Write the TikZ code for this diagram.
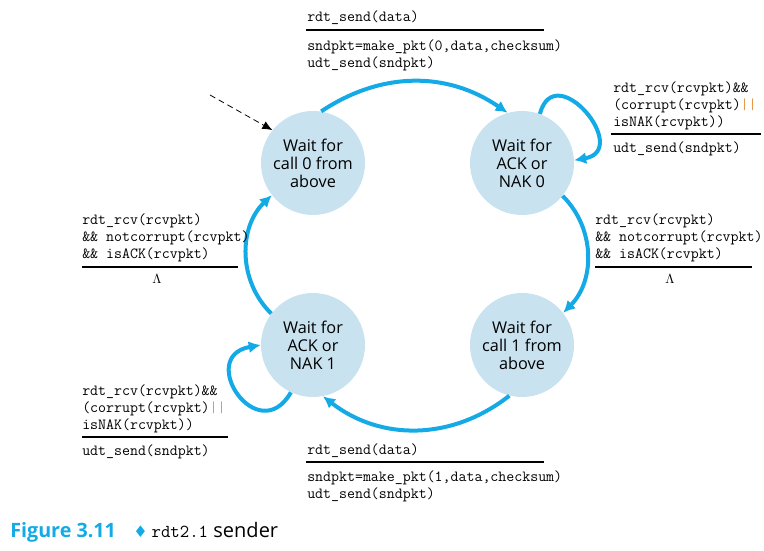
\documentclass[tikz,border=0pt]{standalone}
\usepackage{fontspec}
\newfontfamily\statefont{Open Sans}
\newfontfamily\symfont{DejaVu Sans}
\usepackage{xcolor}
\usepackage{tikz}
\usetikzlibrary{arrows.meta}
\definecolor{stateblue}{RGB}{200,226,240}
\definecolor{arrowblue}{RGB}{20,170,230}
\definecolor{barorange}{RGB}{230,150,70}
\newcommand{\orbar}{\textcolor{barorange}{||}}
\begin{document}
\begin{tikzpicture}[x=0.75pt, y=0.75pt,
  state/.style={circle, fill=stateblue, minimum size=78pt, inner sep=0pt,
    align=center, font=\statefont\fontsize{12.2}{13.5}\selectfont},
  trans/.style={line width=3pt, draw=arrowblue, -{Latex[length=9pt,width=9pt]}},
  lbl/.style={anchor=west, inner sep=0pt, align=left,
    font=\ttfamily\fontsize{11.6}{12.6}\selectfont},
  rule/.style={line width=0.8pt}]
  \useasboundingbox (0,0) rectangle (764,550);
  % states, clockwise from top left
  \node[state] (wait0) at (313,387) {Wait for\\call 0 from\\above};
  \node[state] (ack0)  at (522,387) {Wait for\\ACK or\\NAK 0};
  \node[state] (wait1) at (522,205) {Wait for\\call 1 from\\above};
  \node[state] (ack1)  at (313,205) {Wait for\\ACK or\\NAK 1};
  % initial arrow
  \coordinate (init) at (210,455);
  \draw[line width=0.6pt, dash pattern=on 4.5pt off 3pt,
    -{Latex[length=7.5pt,width=6.5pt]}] (init) -- (wait0.141);
  % transitions around the big ring
  \draw[trans] (wait0.81)  to[bend left=34] (ack0.106);
  \draw[trans] (ack0.321)  to[bend left=45] (wait1.38);
  \draw[trans] (wait1.256) to[bend left=38] (ack1.281);
  \draw[trans] (ack1.143)  to[bend left=46] (wait0.218);
  % self loops on the ACK/NAK states
  \draw[trans] (ack0.70)  to[out=75, in=10, looseness=2.6] (ack0.3);
  \draw[trans] (ack1.245) to[out=240, in=190, looseness=3] (ack1.180);
  % wait0 -> ack0
  \node[lbl] (evt0) at (307,532) {rdt\_send(data)};
  \draw[rule] (306,520) -- (544,520);
  \node[lbl] (act0) at (307,495) {sndpkt=make\_pkt(0,data,checksum)\\udt\_send(sndpkt)};
  % ack0 self loop
  \node[lbl] (evtnak0) at (613,444) {rdt\_rcv(rcvpkt)\&\&\\(corrupt(rcvpkt)\orbar\\isNAK(rcvpkt))};
  \draw[rule] (611,416) -- (761,416);
  \node[lbl] (actnak0) at (613,401) {udt\_send(sndpkt)};
  % ack0 -> wait1
  \node[lbl] (evtack0) at (595,312) {rdt\_rcv(rcvpkt)\\\&\& notcorrupt(rcvpkt)\\\&\& isACK(rcvpkt)};
  \draw[rule] (595,283) -- (752,283);
  \node (actack0) at (670,271) {$\Lambda$};
  % wait1 -> ack1
  \node[lbl] (evt1) at (307,99) {rdt\_send(data)};
  \draw[rule] (306,88) -- (544,88);
  \node[lbl] (act1) at (307,64) {sndpkt=make\_pkt(1,data,checksum)\\udt\_send(sndpkt)};
  % ack1 self loop
  \node[lbl] (evtnak1) at (82,141) {rdt\_rcv(rcvpkt)\&\&\\(corrupt(rcvpkt)\orbar\\isNAK(rcvpkt))};
  \draw[rule] (82,113) -- (228,113);
  \node[lbl] (actnak1) at (82,98) {udt\_send(sndpkt)};
  % ack1 -> wait0
  \node[lbl] (evtack1) at (82,312) {rdt\_rcv(rcvpkt)\\\&\& notcorrupt(rcvpkt)\\\&\& isACK(rcvpkt)};
  \draw[rule] (82,283) -- (238,283);
  \node (actack1) at (157,271) {$\Lambda$};
  % caption
  \node[anchor=base west, inner sep=0pt] (caption) at (10,13)
    {{\statefont\bfseries\fontsize{14.8}{16}\selectfont\color{arrowblue}Figure 3.11}%
     \hspace{13pt}{\symfont\fontsize{12}{14}\selectfont\color{arrowblue}\char"2666}%
     \hspace{3pt}{\ttfamily\fontsize{13.7}{16}\selectfont rdt2.1}%
     \hspace{4pt}{\statefont\fontsize{15}{16}\selectfont sender}};
\end{tikzpicture}
\end{document}
